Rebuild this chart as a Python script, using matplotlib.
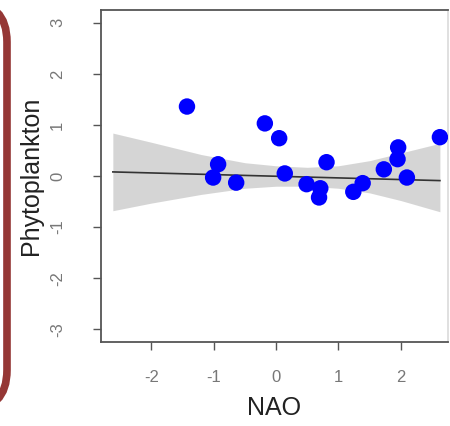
import matplotlib.pyplot as plt
from matplotlib.patches import FancyBboxPatch

plt.rcParams['font.family'] = ['Liberation Sans', 'DejaVu Sans']
plt.rcParams['axes.unicode_minus'] = False

# data
nao = [-1.43, -0.93, -1.01, -0.64, -0.18, 0.05, 0.14, 0.49, 0.71, 0.69,
       0.81, 1.24, 1.39, 1.73, 1.95, 1.96, 2.10, 2.63]
phyto = [1.36, 0.23, -0.03, -0.13, 1.03, 0.74, 0.05, -0.16, -0.24, -0.42,
         0.27, -0.31, -0.14, 0.13, 0.33, 0.56, -0.03, 0.76]

band_x = [-2.62, -2.0, -1.2, -0.5, 0.0, 0.5, 1.0, 1.5, 2.0, 2.63]
band_hi = [0.84, 0.66, 0.42, 0.26, 0.20, 0.17, 0.20, 0.30, 0.45, 0.64]
band_lo = [-0.68, -0.53, -0.36, -0.24, -0.20, -0.20, -0.24, -0.33, -0.48, -0.70]

fit_x = [-2.62, 2.63]
fit_y = [0.08, -0.09]

ticks_x = [-2, -1, 0, 1, 2]
ticks_y = [-3, -2, -1, 0, 1, 2, 3]

fig = plt.figure(figsize=(4.5, 4.26), dpi=100)

# red rounded frame at the left edge (pixel coordinates)
bg = fig.add_axes([0, 0, 1, 1], zorder=0)
bg.set_xlim(0, 450)
bg.set_ylim(426, 0)
bg.axis('off')
bg.add_patch(FancyBboxPatch((-200, 2), 207, 408,
                            boxstyle='round,pad=0,rounding_size=40',
                            fill=False, edgecolor='#953735', linewidth=5.5))

ax = fig.add_axes([101 / 450, 84 / 426, 347 / 450, 332 / 426], zorder=1)
ax.patch.set_alpha(0)

ax.fill_between(band_x, band_lo, band_hi, color='#c4c4c4', alpha=0.7,
                linewidth=0, zorder=1)
ax.plot(fit_x, fit_y, color='#333333', linewidth=1.2, zorder=2)
ax.scatter(nao, phyto, s=140, color='#0000ff', edgecolors='none', zorder=3)

ax.set_xlim(-2.81, 2.76)
ax.set_ylim(-3.25, 3.25)
ax.set_xticks(ticks_x)
ax.set_yticks(ticks_y)
ax.set_xticklabels([str(t) for t in ticks_x])
ax.set_yticklabels([str(t) for t in ticks_y], rotation=90, va='center')

for s in ax.spines.values():
    s.set_color('#555555')
    s.set_linewidth(1.3)
ax.spines['right'].set_color('#dddddd')

ax.tick_params(axis='both', direction='out', length=6, width=1,
               color='#555555', labelcolor='#777777', labelsize=12)
ax.tick_params(axis='x', pad=14)
ax.tick_params(axis='y', pad=20)

ax.set_xlabel('NAO', fontsize=18, color='#222222', labelpad=8)
ax.set_ylabel('Phytoplankton', fontsize=18, color='#222222', labelpad=5)

fig.savefig('out.png', dpi=100)
